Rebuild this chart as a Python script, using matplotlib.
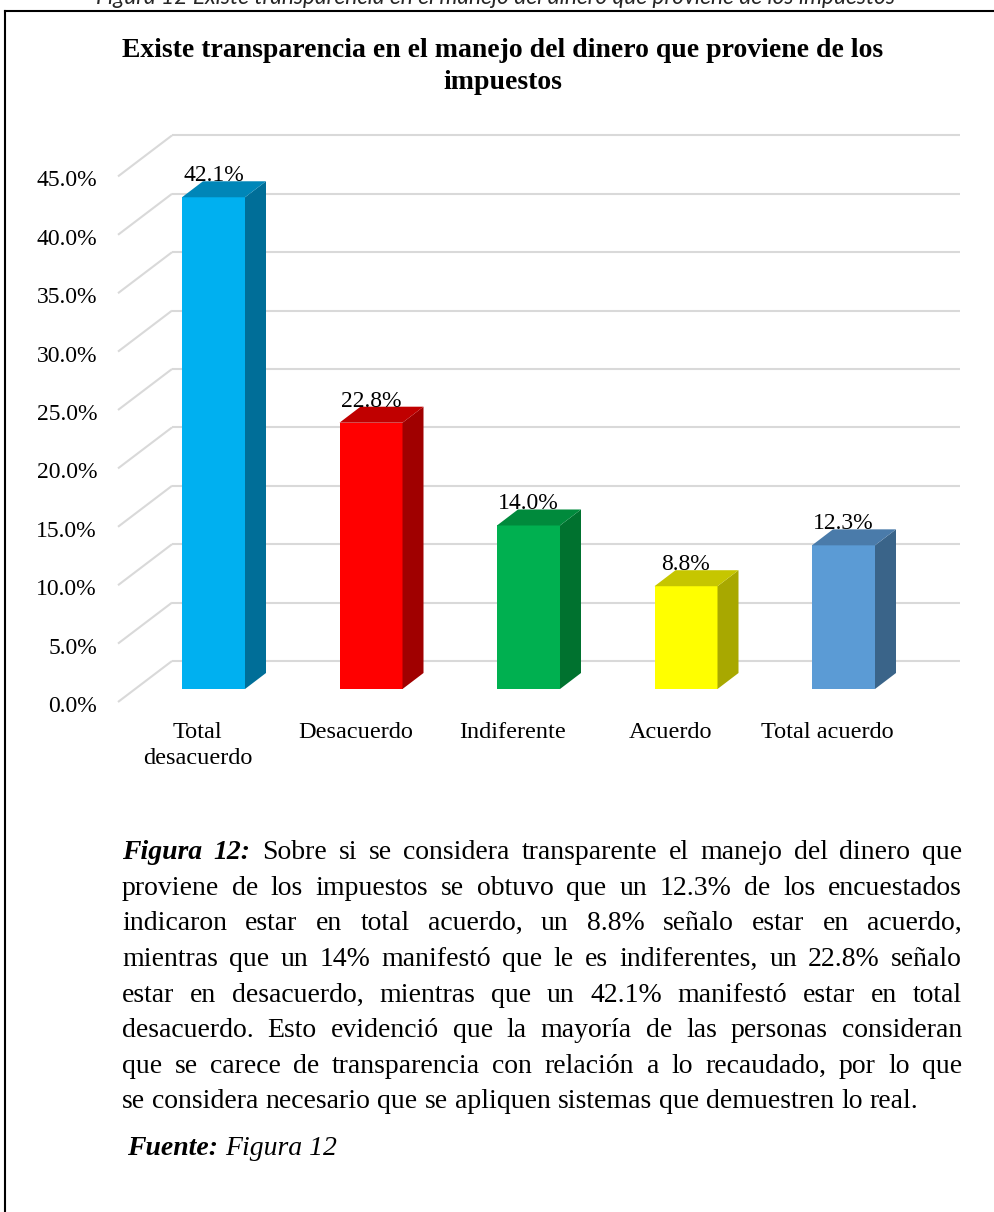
import matplotlib
matplotlib.use("Agg")
import matplotlib.pyplot as plt
from matplotlib.patches import Polygon
from matplotlib.lines import Line2D

# ---------------- data ----------------
categories = ["Total\ndesacuerdo", "Desacuerdo", "Indiferente", "Acuerdo", "Total acuerdo"]
values = [42.1, 22.8, 14.0, 8.8, 12.3]
value_labels = ["42.1%", "22.8%", "14.0%", "8.8%", "12.3%"]
y_ticks = [0, 5, 10, 15, 20, 25, 30, 35, 40, 45]
y_tick_labels = ["0.0%", "5.0%", "10.0%", "15.0%", "20.0%", "25.0%", "30.0%", "35.0%", "40.0%", "45.0%"]

chart_title_lines = ["Existe transparencia en el manejo del dinero que proviene de los", "impuestos"]
top_caption = "Figura 12 Existe transparencia en el manejo del dinero que proviene de los impuestos"
paragraph_lines = [
    [("Figura", "bi"), ("12:", "bi"), "Sobre", "si", "se", "considera", "transparente", "el", "manejo", "del", "dinero", "que"],
    "proviene de los impuestos se obtuvo que un 12.3% de los encuestados".split(),
    "indicaron estar en total acuerdo, un 8.8% señalo estar en acuerdo,".split(),
    "mientras que un 14% manifestó que le es indiferentes, un 22.8% señalo".split(),
    "estar en desacuerdo, mientras que un 42.1% manifestó estar en total".split(),
    "desacuerdo. Esto evidenció que la mayoría de las personas consideran".split(),
    "que se carece de transparencia con relación a lo recaudado, por lo que".split(),
    "se considera necesario que se apliquen sistemas que demuestren lo real.".split(),
]

front_colors = ["#00B0F0", "#FF0000", "#00B050", "#FFFF00", "#5B9BD5"]
top_colors = ["#0086B8", "#C00000", "#008A3C", "#C6C600", "#4A7BAA"]
side_colors = ["#006E98", "#A00000", "#00722F", "#A8A800", "#3A6489"]

SERIF = "Liberation Serif"
W, H = 994, 1212
fig = plt.figure(figsize=(W / 100, H / 100), dpi=100)
fig.patch.set_facecolor("white")

def fx(px):
    return px / W

def fy(py):
    return 1 - py / H

# ---------------- chart axes ----------------
PX_X = 157.5      # px per category
PX_Y = 11.68      # px per percent
X0_PX = 213.5     # px of category 0 front centre
Y0_PX = 689.0     # px of 0 % at bar front
xlim = (-0.7, 4.8)
ylim = (-1.5, 48.0)
left = X0_PX + xlim[0] * PX_X
right = X0_PX + xlim[1] * PX_X
bottom = Y0_PX - ylim[0] * PX_Y
top = Y0_PX - ylim[1] * PX_Y
ax = fig.add_axes([fx(left), fy(bottom), (right - left) / W, (bottom - top) / H])
ax.set_xlim(*xlim)
ax.set_ylim(*ylim)
for s in ax.spines.values():
    s.set_visible(False)
ax.patch.set_alpha(0)

bar_w = 63 / PX_X
dx = 21 / PX_X
dy = 16 / PX_Y
back_dy = (Y0_PX - 661) / PX_Y
wall_x0 = (172 - X0_PX) / PX_X
wall_x1 = (960 - X0_PX) / PX_X
diag_x0 = (118 - X0_PX) / PX_X
diag_dy = (702 - Y0_PX) / PX_Y
grid_c = "#D9D9D9"

for v in y_ticks:
    ax.plot([diag_x0, wall_x0], [v - diag_dy, v + back_dy],
            color=grid_c, lw=1.5, zorder=1, clip_on=False, solid_capstyle="butt")
    ax.plot([wall_x0, wall_x1], [v + back_dy, v + back_dy], color=grid_c, lw=1.5,
            zorder=1, clip_on=False, solid_capstyle="butt")

xs = list(range(len(values)))
ax.bar(xs, values, width=bar_w, color=front_colors, zorder=3, linewidth=0)
for x, v, tc, sc in zip(xs, values, top_colors, side_colors):
    r = x + bar_w / 2
    l = x - bar_w / 2
    ax.add_patch(Polygon([(r, 0), (r + dx, dy), (r + dx, v + dy), (r, v)], closed=True,
                         facecolor=sc, edgecolor="none", zorder=3))
    ax.add_patch(Polygon([(l, v), (r, v), (r + dx, v + dy), (l + dx, v + dy)], closed=True,
                         facecolor=tc, edgecolor="none", zorder=3))

for x, v, lab in zip(xs, values, value_labels):
    ax.text(x, v + dy, lab, ha="center", va="baseline", fontsize=17, family=SERIF,
            color="black", zorder=4)

label_dy = (704 - Y0_PX) / PX_Y
ax.set_yticks([v - label_dy for v in y_ticks])
ax.set_yticklabels(y_tick_labels, fontsize=17, family=SERIF)
ax.tick_params(axis="y", length=0, pad=4.5)
ax.set_xticks([x - 0.1 for x in xs])
ax.set_xticklabels(categories, fontsize=17.5, family=SERIF, linespacing=1.3)
ax.tick_params(axis="x", length=0, pad=11)

# ---------------- texts outside chart ----------------
fig.text(fx(495), fy(4), top_caption, ha="center", va="baseline", fontsize=16.4,
         family="Lato", style="italic", color="#262626")
for line, yb in zip(chart_title_lines, [57, 89]):
    fig.text(fx(503), fy(yb), line, ha="center", va="baseline", fontsize=20,
             family=SERIF, weight="bold")

# box border (left and top)
fig.add_artist(Line2D([fx(5), fx(5)], [fy(11), fy(H + 5)], transform=fig.transFigure,
                      color="black", lw=1.5))
fig.add_artist(Line2D([fx(5), fx(W + 5)], [fy(11), fy(11)], transform=fig.transFigure,
                      color="black", lw=1.5))

renderer = fig.canvas.get_renderer()
P_SIZE = 20
P_LEFT, P_RIGHT = 122, 962
baselines = [859, 895, 930, 966, 1002, 1037, 1073, 1108]

def make_word(w):
    if isinstance(w, tuple):
        text, st = w
        return fig.text(0, 0, text, fontsize=P_SIZE, family=SERIF, style="italic",
                        weight="bold", va="baseline", ha="left")
    return fig.text(0, 0, w, fontsize=P_SIZE, family=SERIF, va="baseline", ha="left")

probe1 = fig.text(0, 0, "a a", fontsize=P_SIZE, family=SERIF)
probe2 = fig.text(0, 0, "aa", fontsize=P_SIZE, family=SERIF)
space_w = probe1.get_window_extent(renderer).width - probe2.get_window_extent(renderer).width
probe1.remove(); probe2.remove()

for i, (words, yb) in enumerate(zip(paragraph_lines, baselines)):
    objs = [make_word(w) for w in words]
    widths = [o.get_window_extent(renderer).width for o in objs]
    last = i == len(paragraph_lines) - 1
    if last:
        gap = space_w
    else:
        gap = (P_RIGHT - P_LEFT - sum(widths)) / (len(objs) - 1)
    x = P_LEFT
    for o, w in zip(objs, widths):
        o.set_position((fx(x), fy(yb)))
        x += w + gap

f1 = fig.text(fx(127), fy(1155), "Fuente:", fontsize=P_SIZE, family=SERIF, style="italic",
              weight="bold", va="baseline", ha="left")
w1 = f1.get_window_extent(renderer).width
fig.text(fx(127 + w1 + space_w), fy(1155), "Figura 12", fontsize=P_SIZE, family=SERIF,
         style="italic", va="baseline", ha="left")

fig.savefig("out.png", dpi=100, facecolor="white")
